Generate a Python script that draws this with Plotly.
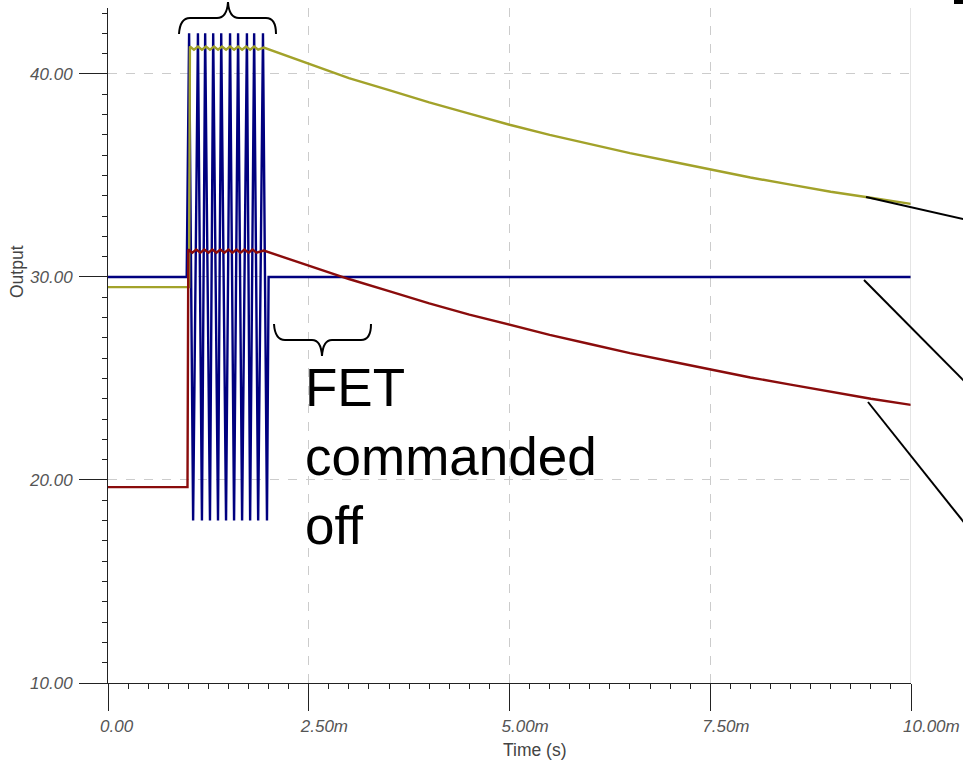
import plotly.graph_objects as go

# ---------------- data (time in ms, output in V) ----------------
blue_t = [0.0, 0.98, 1.01, 1.06, 1.12, 1.17, 1.21, 1.27, 1.31, 1.37, 1.41, 1.47,
          1.52, 1.57, 1.62, 1.67, 1.73, 1.77, 1.82, 1.87, 1.93, 1.98, 2.00, 10.0]
blue_v = [30.0, 30.0, 42.0, 18.0, 42.0, 18.0, 42.0, 18.0, 42.0, 18.0, 42.0, 18.0,
          42.0, 18.0, 42.0, 18.0, 42.0, 18.0, 42.0, 18.0, 42.0, 18.0, 30.0, 30.0]

yel_t = [0.0, 1.01, 1.02, 1.07, 1.12, 1.17, 1.22, 1.27, 1.32, 1.37, 1.42, 1.47,
         1.52, 1.57, 1.62, 1.67, 1.72, 1.77, 1.82, 1.87, 1.94,
         2.5, 3.0, 3.5, 4.0, 4.5, 5.0, 5.5, 6.0, 6.5, 7.0, 7.5, 8.0, 8.5, 9.0, 9.5, 10.0]
yel_v = [29.5, 29.5, 41.35, 41.2, 41.35, 41.2, 41.35, 41.2, 41.35, 41.2, 41.35, 41.2,
         41.35, 41.2, 41.35, 41.2, 41.35, 41.2, 41.35, 41.2, 41.3,
         40.5, 39.8, 39.2, 38.6, 38.05, 37.5, 37.0, 36.55, 36.1, 35.7, 35.3, 34.9, 34.55, 34.2, 33.9, 33.6]

red_t = [0.0, 0.99, 1.00, 1.05, 1.10, 1.15, 1.20, 1.25, 1.30, 1.35, 1.40, 1.45,
         1.50, 1.55, 1.60, 1.65, 1.70, 1.75, 1.80, 1.85, 1.94,
         2.5, 3.0, 3.5, 4.0, 4.5, 5.0, 5.5, 6.0, 6.5, 7.0, 7.5, 8.0, 8.5, 9.0, 9.5, 10.0]
red_v = [19.65, 19.65, 31.35, 31.2, 31.35, 31.2, 31.35, 31.2, 31.35, 31.2, 31.35, 31.2,
         31.35, 31.2, 31.35, 31.2, 31.35, 31.2, 31.35, 31.2, 31.3,
         30.55, 29.9, 29.3, 28.7, 28.15, 27.65, 27.15, 26.7, 26.25, 25.85, 25.45, 25.05, 24.7, 24.35, 24.0, 23.7]

x_tickvals = [0, 2.5, 5.0, 7.5, 10.0]
x_ticktext = ["0.00", "2.50m", "5.00m", "7.50m", "10.00m"]
x_midticks = [1.25, 3.75, 6.25, 8.75]
y_tickvals = [10, 20, 30, 40]
y_ticktext = ["10.00", "20.00", "30.00", "40.00"]
y_midticks = [15, 25, 35]
x_range = [0, 10]
y_range = [10, 43.25]

annotation_text = "FET<br>commanded<br>off"

# ---------------- layout geometry ----------------
W, H = 963, 762
ML, MR, MT, MB = 108, 52, 8, 79
PW, PH = W - ML - MR, H - MT - MB


def px(x):
    return (x - ML) / PW


def py(y):
    return (H - MB - y) / PH


def path(points_cmds):
    out = []
    for cmd, pts in points_cmds:
        coords = " ".join(f"{px(a):.5f},{py(b):.5f}" for a, b in pts)
        out.append(f"{cmd} {coords}")
    return " ".join(out)


AX = "#222222"
LBL = "#555555"
FONT = "Liberation Sans, Arial, sans-serif"

fig = go.Figure()
fig.add_trace(go.Scatter(x=blue_t, y=blue_v, mode="lines",
                         line=dict(color="#00007f", width=2.4), hoverinfo="skip"))
fig.add_trace(go.Scatter(x=yel_t, y=yel_v, mode="lines",
                         line=dict(color="#a2a22a", width=2.4), hoverinfo="skip"))
fig.add_trace(go.Scatter(x=red_t, y=red_v, mode="lines",
                         line=dict(color="#8a0c0c", width=2.4), hoverinfo="skip"))

tickfont = dict(family=FONT, size=17, color=LBL, style="italic")

fig.update_layout(
    width=W, height=H, autosize=False,
    margin=dict(l=ML, r=MR, t=MT, b=MB, pad=0, autoexpand=False),
    plot_bgcolor="white", paper_bgcolor="white",
    showlegend=False,
    font=dict(family=FONT),
    xaxis=dict(range=x_range, tickmode="array", tickvals=x_tickvals, ticktext=x_ticktext,
               ticks="outside", ticklen=27, tickwidth=1, tickcolor=AX,
               showline=True, linecolor=AX, linewidth=1, automargin=False,
               showgrid=True, gridcolor="#cccccc", griddash="dash", gridwidth=1,
               zeroline=False, tickfont=tickfont, ticklabeloverflow="allow",
               ticklabelposition="outside right", ticklabelshift=-9, ticklabelstandoff=28,
               minor=dict(tickmode="linear", tick0=0, dtick=0.25, ticks="outside",
                          ticklen=5, tickcolor=AX, tickwidth=1, showgrid=False)),
    yaxis=dict(range=y_range, tickmode="array", tickvals=y_tickvals, ticktext=y_ticktext,
               ticks="outside", ticklen=28, tickwidth=1, tickcolor=AX,
               showline=True, linecolor=AX, linewidth=1, automargin=False,
               showgrid=True, gridcolor="#cccccc", griddash="dash", gridwidth=1,
               zeroline=False, tickfont=tickfont, ticklabelstandoff=3,
               minor=dict(tickmode="linear", tick0=10, dtick=1, ticks="outside",
                          ticklen=5, tickcolor=AX, tickwidth=1, showgrid=False)),
    xaxis2=dict(range=x_range, overlaying="x", anchor="y", side="bottom",
                tickmode="array", tickvals=x_midticks, ticks="outside", ticklen=14,
                tickcolor=AX, tickwidth=1, showticklabels=False, showgrid=False,
                showline=False, zeroline=False, automargin=False),
    yaxis2=dict(range=y_range, overlaying="y", anchor="x", side="left",
                tickmode="array", tickvals=y_midticks, ticks="outside", ticklen=13,
                tickcolor=AX, tickwidth=1, showticklabels=False, showgrid=False,
                showline=False, zeroline=False, automargin=False),
)

shapes = []
# solid right boundary grid line at the end of the time axis
shapes.append(dict(type="line", xref="x", yref="paper", x0=x_range[1], x1=x_range[1],
                   y0=0, y1=1, line=dict(color="#c8c8c8", width=1)))
# top brace (oscillation)
shapes.append(dict(type="path", xref="paper", yref="paper",
                   path=path([("M", [(179, 34)]), ("Q", [(180, 18), (190, 18)]),
                              ("L", [(217, 18)]), ("Q", [(227, 18), (228, 2)]),
                              ("Q", [(229, 18), (239, 18)]), ("L", [(266, 18)]),
                              ("Q", [(276, 18), (276, 34)])]),
                   line=dict(color="black", width=2)))
# lower brace (FET commanded off)
shapes.append(dict(type="path", xref="paper", yref="paper",
                   path=path([("M", [(274, 324)]), ("Q", [(275, 340), (285, 340)]),
                              ("L", [(312, 340)]), ("Q", [(321, 340), (322, 356)]),
                              ("Q", [(323, 340), (332, 340)]), ("L", [(361, 340)]),
                              ("Q", [(371, 340), (371, 324)])]),
                   line=dict(color="black", width=2)))
# pointer lines on the right
for (a, b) in [((866, 197), (970, 220.5)), ((864, 280), (970, 387)), ((868, 402), (970, 530))]:
    shapes.append(dict(type="line", xref="paper", yref="paper",
                       x0=px(a[0]), y0=py(a[1]), x1=px(b[0]), y1=py(b[1]),
                       line=dict(color="black", width=2)))
# small dark mark in the top-right corner
shapes.append(dict(type="rect", xref="paper", yref="paper",
                   x0=px(954), x1=px(965), y0=py(4), y1=py(-2),
                   fillcolor="black", line=dict(width=0)))
fig.update_layout(shapes=shapes)

annotations = [
    dict(text=annotation_text, xref="paper", yref="paper", x=px(303), y=py(356),
         xanchor="left", yanchor="top", align="left", showarrow=False,
         font=dict(family=FONT, size=53, color="black")),
    dict(text="Output", xref="paper", yref="paper", x=px(17), y=py(272),
         xanchor="center", yanchor="middle", textangle=-90, showarrow=False,
         font=dict(family=FONT, size=17.5, color="#444444")),
    dict(text="Time (s)", xref="paper", yref="paper", x=px(535), y=py(750),
         xanchor="center", yanchor="middle", showarrow=False,
         font=dict(family=FONT, size=17.5, color="#444444")),
]
fig.update_layout(annotations=annotations)

fig.write_html("out.html", config={"displayModeBar": False},
               post_script="document.body.style.margin='0';document.body.style.overflow='hidden';")
